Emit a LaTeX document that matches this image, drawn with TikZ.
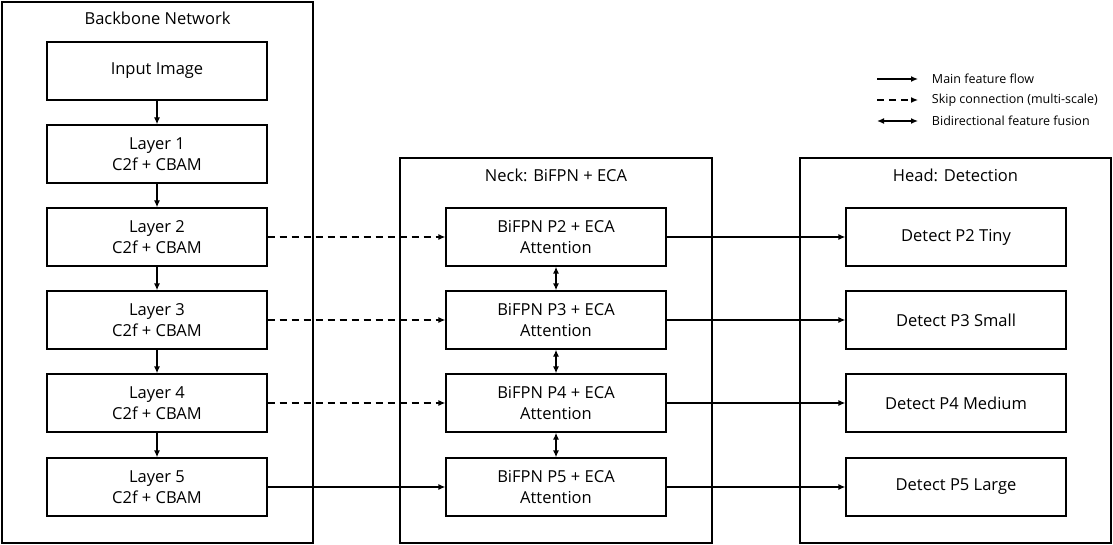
\documentclass[tikz,border=0pt]{standalone}
\usepackage{fontspec}
\setmainfont{Open Sans}
\usetikzlibrary{arrows.meta}

\begin{document}
\begin{tikzpicture}[x=1pt, y=-1pt, line width=1.3pt,
    every node/.style={font=\fontsize{16.5}{21}\selectfont},
    blk/.style={draw, minimum width=220pt, minimum height=58pt, align=center, inner sep=0pt},
    grp/.style={draw, inner sep=0pt},
    flow/.style={-{Latex[length=7pt,width=6pt]}},
    skip/.style={flow, dash pattern=on 7pt off 5pt},
    fuse/.style={{Latex[length=7pt,width=6pt]}-{Latex[length=7pt,width=6pt]}},
    legtxt/.style={anchor=west, font=\fontsize{12.5}{14}\selectfont}]
    \useasboundingbox (0,0) rectangle (1113,545);

    % Group frames and titles
    \node[grp, minimum width=311pt, minimum height=541pt] (backbone) at (157.5,272.5) {};
    \node[grp, minimum width=312pt, minimum height=385pt] (neck) at (556,350.5) {};
    \node[grp, minimum width=311pt, minimum height=385pt] (head) at (955.5,350.5) {};
    \node (tbb) at (157.5,18) {Backbone Network};
    \node (tnk) at (556,175) {Neck: BiFPN + ECA};
    \node (thd) at (955.5,175) {Head: Detection};

    % Backbone
    \node[blk] (inp) at (157,71) {Input Image};
    \node[blk] (L1) at (157,154) {Layer 1\\C2f + CBAM};
    \node[blk] (L2) at (157,237) {Layer 2\\C2f + CBAM};
    \node[blk] (L3) at (157,320) {Layer 3\\C2f + CBAM};
    \node[blk] (L4) at (157,403) {Layer 4\\C2f + CBAM};
    \node[blk] (L5) at (157,487) {Layer 5\\C2f + CBAM};

    % Neck
    \node[blk] (P2) at (556,237) {BiFPN P2 + ECA\\Attention};
    \node[blk] (P3) at (556,320) {BiFPN P3 + ECA\\Attention};
    \node[blk] (P4) at (556,403) {BiFPN P4 + ECA\\Attention};
    \node[blk] (P5) at (556,487) {BiFPN P5 + ECA\\Attention};

    % Head
    \node[blk] (D2) at (956,237) {Detect P2 Tiny};
    \node[blk] (D3) at (956,320) {Detect P3 Small};
    \node[blk] (D4) at (956,403) {Detect P4 Medium};
    \node[blk] (D5) at (956,487) {Detect P5 Large};

    % Connections
    \draw[flow] (inp) -- (L1);
    \foreach \a/\b in {L1/L2, L2/L3, L3/L4, L4/L5}
        \draw[flow] (\a) -- (\b);
    \foreach \i in {2,3,4}
        \draw[skip] (L\i) -- (P\i);
    \draw[flow] (L5) -- (P5);
    \foreach \a/\b in {P2/P3, P3/P4, P4/P5}
        \draw[fuse] (\a) -- (\b);
    \foreach \i in {2,3,4,5}
        \draw[flow] (P\i) -- (D\i);

    % Legend
    \coordinate (m1) at (877,79);  \coordinate (m2) at (918,79);
    \coordinate (s1) at (877,100); \coordinate (s2) at (918,100);
    \coordinate (b1) at (877,121); \coordinate (b2) at (918,121);
    \draw[flow] (m1) -- (m2);
    \draw[skip] (s1) -- (s2);
    \draw[fuse] (b1) -- (b2);
    \node[legtxt] (lm) at (928,79) {Main feature flow};
    \node[legtxt] (ls) at (928,100) {Skip connection (multi-scale)};
    \node[legtxt] (lb) at (928,121) {Bidirectional feature fusion};
\end{tikzpicture}
\end{document}
